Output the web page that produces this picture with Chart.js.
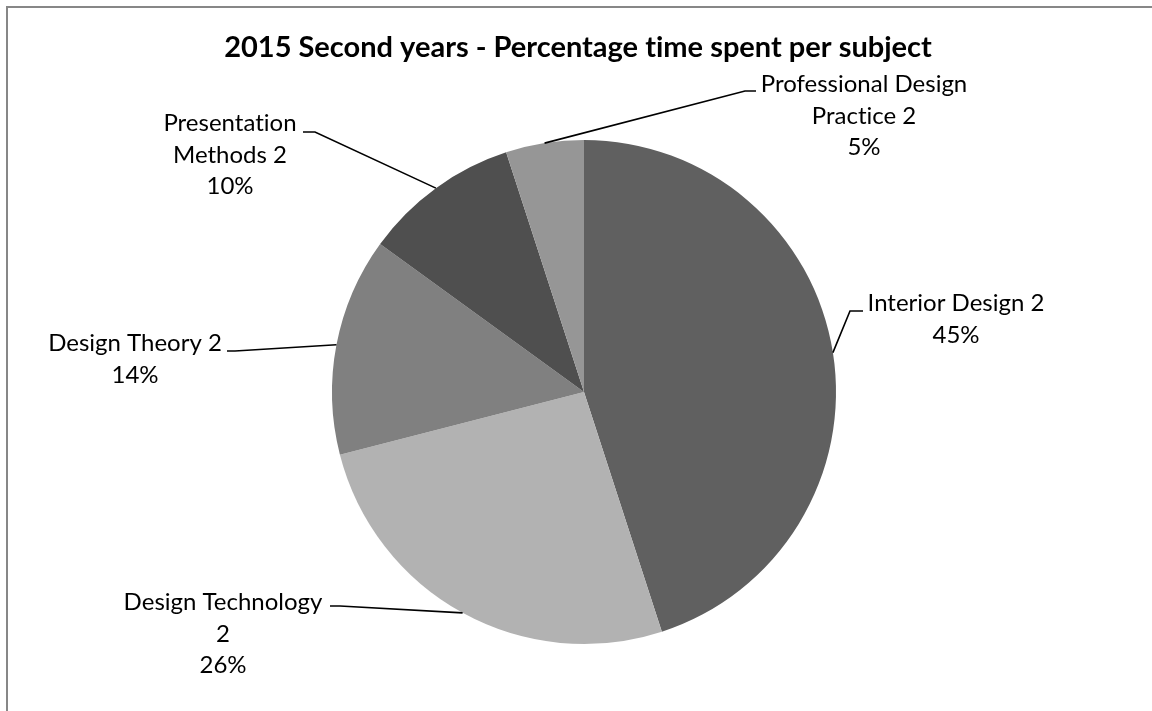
<!DOCTYPE html>
<html>
<head>
<meta charset="utf-8">
<script src="https://cdn.jsdelivr.net/npm/chart.js@4.4.1/dist/chart.umd.min.js"></script>
<style>
  html, body { margin: 0; padding: 0; background: #ffffff; }
  canvas { display: block; }
</style>
</head>
<body>
<canvas id="chart" width="1152" height="711"></canvas>
<script>
// Subjects and the share of second-year time spent on each
const subjects = [
  'Interior Design 2',
  'Design Technology 2',
  'Design Theory 2',
  'Presentation Methods 2',
  'Professional Design Practice 2'
];
const sharePercent = [45, 26, 14, 10, 5];

// How each subject name wraps in its callout
const labelLines = [
  ['Interior Design 2'],
  ['Design Technology', '2'],
  ['Design Theory 2'],
  ['Presentation', 'Methods 2'],
  ['Professional Design', 'Practice 2']
];

const chartTitle = '2015 Second years - Percentage time spent per subject';

// Slice fills (greyscale)
const sliceColors = ['#606060', '#b2b2b2', '#808080', '#4f4f4f', '#969696'];

// Callout placement: text centre x, first baseline, leader elbow and leader end
const calloutLayout = [
  { cx: 956, y: 311, elbow: [850, 311], end: [863, 311] },
  { cx: 223, y: 610, elbow: [340, 606], end: [330, 606] },
  { cx: 135, y: 351, elbow: [235, 351], end: [227, 351] },
  { cx: 230, y: 131, elbow: [315, 132], end: [303, 132] },
  { cx: 864, y: 92,  elbow: [745, 91],  end: [756, 91] }
];

const LABEL_FONT = '24px Lato, "DejaVu Sans", sans-serif';
const TITLE_FONT = 'bold 29px Lato, "DejaVu Sans", sans-serif';
const LINE_GAP = 31.5;

// keep "t" and "i" as separate glyphs (no ligature)
function plainText(s) {
  return s.replace(/ti/g, 't\u200Ci');
}

const decorations = {
  id: 'decorations',
  beforeDraw(chart) {
    const ctx = chart.ctx;
    ctx.save();
    ctx.fillStyle = '#ffffff';
    ctx.fillRect(0, 0, chart.width, chart.height);
    // outer frame (runs off the right and bottom edges)
    ctx.fillStyle = '#878787';
    ctx.fillRect(6, 6, chart.width, 2);
    ctx.fillRect(6, 6, 2, chart.height);
    // title
    ctx.fillStyle = '#000000';
    ctx.font = TITLE_FONT;
    ctx.textAlign = 'center';
    ctx.textBaseline = 'alphabetic';
    ctx.fillText(plainText(chartTitle), 578, 57);
    ctx.restore();
  },
  afterDatasetsDraw(chart) {
    const ctx = chart.ctx;
    const meta = chart.getDatasetMeta(0);
    const values = chart.data.datasets[0].data;
    ctx.save();
    meta.data.forEach((arc, i) => {
      const p = arc.getProps(['x', 'y', 'startAngle', 'endAngle', 'outerRadius'], true);
      const mid = (p.startAngle + p.endAngle) / 2;
      const ex = p.x + Math.cos(mid) * p.outerRadius;
      const ey = p.y + Math.sin(mid) * p.outerRadius;
      const lay = calloutLayout[i];
      // leader line
      ctx.strokeStyle = '#000000';
      ctx.lineWidth = 1.6;
      ctx.beginPath();
      ctx.moveTo(ex, ey);
      ctx.lineTo(lay.elbow[0], lay.elbow[1]);
      ctx.lineTo(lay.end[0], lay.end[1]);
      ctx.stroke();
      // callout text
      const lines = labelLines[i].concat([values[i] + '%']);
      ctx.fillStyle = '#000000';
      ctx.font = LABEL_FONT;
      ctx.textAlign = 'center';
      ctx.textBaseline = 'alphabetic';
      lines.forEach((t, k) => ctx.fillText(plainText(t), lay.cx, lay.y + k * LINE_GAP));
    });
    ctx.restore();
  }
};

new Chart(document.getElementById('chart'), {
  type: 'pie',
  data: {
    labels: subjects,
    datasets: [{
      data: sharePercent,
      backgroundColor: sliceColors,
      borderWidth: 0
    }]
  },
  options: {
    responsive: false,
    devicePixelRatio: 1,
    animation: false,
    rotation: 0,
    layout: { padding: { left: 332, right: 316, top: 140, bottom: 67 } },
    plugins: {
      legend: { display: false },
      tooltip: { enabled: false },
      title: { display: false }
    }
  },
  plugins: [decorations]
});
</script>
</body>
</html>
